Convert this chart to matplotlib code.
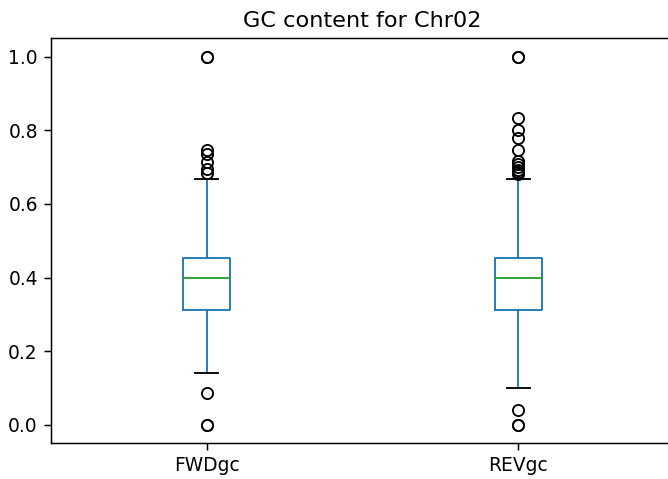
import matplotlib
matplotlib.use("Agg")
import matplotlib.pyplot as plt

# box stats
labels = ["FWDgc", "REVgc"]
medians = [0.398, 0.398]
q1s = [0.312, 0.312]
q3s = [0.453, 0.453]
whis_lo = [0.141, 0.099]
whis_hi = [0.667, 0.667]
fwd_fliers = [0.0, 0.0, 0.086, 0.684, 0.695, 0.713, 0.735, 0.747, 1.0, 1.0]
rev_fliers = [0.0, 0.0, 0.041, 0.682, 0.687, 0.691, 0.700, 0.708, 0.716,
              0.747, 0.780, 0.801, 0.834, 1.0, 1.0]
fliers = [fwd_fliers, rev_fliers]

stats = []
for i, lab in enumerate(labels):
    stats.append(dict(label=lab, med=medians[i], q1=q1s[i], q3=q3s[i],
                      whislo=whis_lo[i], whishi=whis_hi[i], fliers=fliers[i]))

dpi = 134
fig = plt.figure(figsize=(668 / dpi, 479 / dpi), dpi=dpi)
ax = fig.add_axes([0.0762, 0.0745, 0.933, 0.8455])

ax.bxp(stats,
       boxprops=dict(color="#1f77b4"),
       whiskerprops=dict(color="#1f77b4"),
       medianprops=dict(color="#2ca02c"),
       capprops=dict(color="k"),
       flierprops=dict(marker="o", markerfacecolor="none", markeredgecolor="k"))

ax.set_ylim(-0.05, 1.05)
ax.set_xlim(0.5, 2.5)
ax.set_title("GC content for Chr02")

fig.savefig("out.png", dpi=dpi)
